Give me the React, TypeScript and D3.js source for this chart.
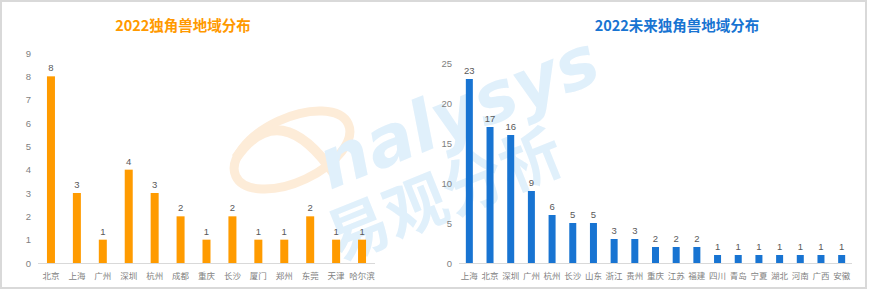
import React from "react";
import * as d3 from "d3";

const leftCategories = ["北京", "上海", "广州", "深圳", "杭州", "成都", "重庆", "长沙", "厦门", "郑州", "东莞", "天津", "哈尔滨"];
const leftValues = [8, 3, 1, 4, 3, 2, 1, 2, 1, 1, 2, 1, 1];
const leftTicks = [0, 1, 2, 3, 4, 5, 6, 7, 8, 9];
const leftTitle = "2022独角兽地域分布";

const rightCategories = ["上海", "北京", "深圳", "广州", "杭州", "长沙", "山东", "浙江", "贵州", "重庆", "江苏", "福建", "四川", "青岛", "宁夏", "湖北", "河南", "广西", "安徽"];
const rightValues = [23, 17, 16, 9, 6, 5, 5, 3, 3, 2, 2, 2, 1, 1, 1, 1, 1, 1, 1];
const rightTicks = [0, 5, 10, 15, 20, 25];
const rightTitle = "2022未来独角兽地域分布";

const FONT = "'Microsoft YaHei', 'Noto Sans CJK SC', 'Noto Sans', sans-serif";
const NUMFONT = "'Liberation Sans', Arial, sans-serif";

type PanelProps = {
  cats: string[];
  vals: number[];
  ticks: number[];
  maxV: number;
  x0: number;
  x1: number;
  barW: number;
  color: string;
  title: string;
  titleX: number;
  titleColor: string;
  tickX: number;
};

function Panel(p: PanelProps) {
  const x = d3.scaleBand<string>().domain(p.cats).range([p.x0, p.x1]);
  const y = d3.scaleLinear().domain([0, p.maxV]).range([263, 53]);
  return (
    <g>
      <text x={p.titleX} y={31} textAnchor="middle" fontSize={14.5} fontWeight="bold" fill={p.titleColor} fontFamily={FONT}>
        {p.title}
      </text>
      {p.ticks.map((t) => (
        <text key={t} x={p.tickX} y={y(t) + 3.5} textAnchor="end" fontSize={9.5} fill="#7f7f7f" fontFamily={NUMFONT}>
          {t}
        </text>
      ))}
      <line x1={p.x0} x2={p.x1} y1={263.5} y2={263.5} stroke="#d9d9d9" strokeWidth={1} />
      {p.cats.map((c, i) => {
        const cx = (x(c) as number) + x.bandwidth() / 2;
        const v = p.vals[i];
        return (
          <g key={c}>
            <rect x={cx - p.barW / 2} y={y(v)} width={p.barW} height={263 - y(v)} fill={p.color} />
            <text x={cx} y={y(v) - 5} textAnchor="middle" fontSize={9.5} fill="#595959" fontFamily={NUMFONT}>
              {v}
            </text>
            <text x={cx} y={278.5} textAnchor="middle" fontSize={8.5} fill="#7f7f7f" fontFamily={FONT}>
              {c}
            </text>
          </g>
        );
      })}
    </g>
  );
}

export default function App() {
  return (
    <svg width={869} height={294} style={{ position: "absolute", left: 0, top: 0, background: "#fff" }}>
      <rect x={1} y={1} width={865} height={287} fill="#fff" stroke="#d9d9d9" strokeWidth={2} />
      {/* watermark */}
      <g opacity={0.75}>
        <ellipse cx={292} cy={150} rx={62} ry={32} transform="rotate(-25 292 150)" fill="none" stroke="#fde6cc" strokeWidth={9} />
        <path d="M 236 158 Q 280 95 335 175" fill="none" stroke="#fde6cc" strokeWidth={10} />
        <text x={330} y={190} fontSize={70} fontWeight="bold" fontStyle="italic" fill="#d6ebfa" fontFamily="'DejaVu Sans', sans-serif" transform="rotate(-22 330 190)">
          nalysys
        </text>
        <text x={338} y={262} fontSize={62} fontWeight="bold" fill="#d6ebfa" fontFamily={FONT} transform="rotate(-22 338 262)">
          易观分析
        </text>
      </g>
      <Panel
        cats={leftCategories}
        vals={leftValues}
        ticks={leftTicks}
        maxV={9}
        x0={38}
        x1={375}
        barW={8}
        color="#ff9b00"
        title={leftTitle}
        titleX={183}
        titleColor="#ff9900"
        tickX={31}
      />
      <Panel
        cats={rightCategories}
        vals={rightValues}
        ticks={rightTicks}
        maxV={26.25}
        x0={459}
        x1={852}
        barW={7}
        color="#1874d2"
        title={rightTitle}
        titleX={677}
        titleColor="#1874d2"
        tickX={452}
      />
    </svg>
  );
}
